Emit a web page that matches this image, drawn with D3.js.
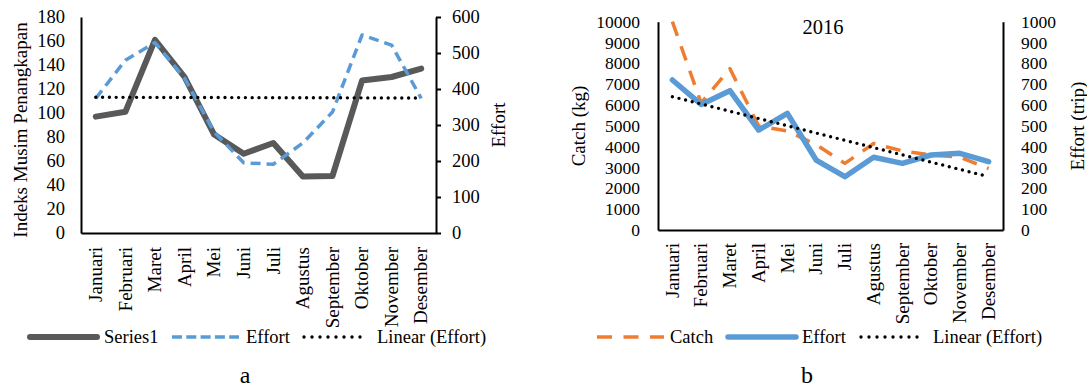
<!DOCTYPE html>
<html><head><meta charset="utf-8">
<script src="https://cdn.jsdelivr.net/npm/d3@7"></script>
<style>
body{margin:0;background:#fff;}
svg{display:block;}
text{font-family:"Liberation Serif","Times New Roman",serif;fill:#000;}
</style></head>
<body>
<svg id="c" width="1087" height="389"></svg>
<script>
const months = ["Januari","Februari","Maret","April","Mei","Juni","Juli","Agustus","September","Oktober","November","Desember"];
// Chart a
const series1A = [97,101,161,130,82,66,75,47,47.5,127,130,137];
const effortA = [374,480,529,430,281,195,191,250,336,550,522,374];
const trendA = [377,375];
const ticksAL = [0,20,40,60,80,100,120,140,160,180];
const ticksAR = [0,100,200,300,400,500,600];
// Chart b
const catchB = [10000,6100,7750,5000,4750,4100,3200,4150,3800,3600,3500,2950];
const effortB = [720,603,669,480,560,336,256,349,320,360,368,328];
const trendB = [640,256];
const ticksBL = [0,1000,2000,3000,4000,5000,6000,7000,8000,9000,10000];
const ticksBR = [0,100,200,300,400,500,600,700,800,900,1000];

const svg = d3.select("#c");

function panel(cfg){
  const g = svg.append("g");
  const x = d3.scaleBand().domain(months).range([cfg.x0,cfg.x1]).padding(0);
  const cx = d => x(d)+x.bandwidth()/2;
  const yL = d3.scaleLinear().domain(cfg.domL).range([cfg.yb,cfg.yt]);
  const yR = d3.scaleLinear().domain(cfg.domR).range([cfg.yb,cfg.yt]);

  const aL = g.append("g").attr("transform",`translate(${cfg.x0},0)`)
    .call(d3.axisLeft(yL).tickValues(cfg.ticksL).tickSize(0).tickSizeOuter(0).tickPadding(cfg.padL).tickFormat(d3.format("d")));
  aL.select(".domain").attr("stroke","#000").attr("stroke-width",2);
  aL.selectAll("text").style("font-size",cfg.tickFont+"px").attr("font-family",null);
  const aR = g.append("g").attr("transform",`translate(${cfg.x1},0)`)
    .call(d3.axisRight(yR).tickValues(cfg.ticksR).tickSize(cfg.rTick).tickSizeOuter(0).tickPadding(cfg.padR).tickFormat(d3.format("d")));
  aR.select(".domain").attr("stroke","#000").attr("stroke-width",2);
  aR.selectAll(".tick line").attr("stroke","#000").attr("stroke-width",2);
  aR.selectAll("text").style("font-size",cfg.tickFont+"px").attr("font-family",null);
  const aB = g.append("g").attr("transform",`translate(0,${cfg.yb})`)
    .call(d3.axisBottom(x).tickSize(0).tickSizeOuter(0));
  aB.select(".domain").attr("stroke","#000").attr("stroke-width",2);
  aB.selectAll("text").attr("font-family",null).style("font-size","19px")
    .attr("transform","rotate(-90)").attr("text-anchor","end")
    .attr("x",-cfg.monthOff).attr("y",0).attr("dy","0.33em");

  const lineL = d3.line().x((d,i)=>cx(months[i])).y(d=>yL(d));
  const lineR = d3.line().x((d,i)=>cx(months[i])).y(d=>yR(d));
  const trendLine = d3.line().x(d=>cx(d[0])).y(d=>yR(d[1]));

  cfg.series.forEach(s=>{
    const ln = s.axis==="L"?lineL:lineR;
    const p = g.append("path").datum(s.data).attr("d",ln).attr("fill","none")
      .attr("stroke",s.color).attr("stroke-width",s.width)
      .attr("stroke-linejoin","round").attr("stroke-linecap",s.cap||"round");
    if(s.dash) p.attr("stroke-dasharray",s.dash);
  });
  g.append("path").datum([[months[0],cfg.trend[0]],[months[11],cfg.trend[1]]])
    .attr("d",trendLine).attr("fill","none").attr("stroke","#000")
    .attr("stroke-width",3.4).attr("stroke-linecap","round").attr("stroke-dasharray","0,6.8");

  g.append("text").attr("transform",`translate(${cfg.tLx},${cfg.tLy}) rotate(-90)`)
    .attr("text-anchor","middle").attr("dy","0.35em").style("font-size","19px").text(cfg.titleL);
  g.append("text").attr("transform",`translate(${cfg.tRx},${cfg.tRy}) rotate(-90)`)
    .attr("text-anchor","middle").attr("dy","0.35em").style("font-size","19px").text(cfg.titleR);

  cfg.legend.forEach(l=>{
    const p = g.append("line").attr("x1",l.x1).attr("x2",l.x2).attr("y1",cfg.legY).attr("y2",cfg.legY)
      .attr("stroke",l.color).attr("stroke-width",l.width).attr("stroke-linecap",l.cap||"round");
    if(l.dash) p.attr("stroke-dasharray",l.dash);
    g.append("text").attr("x",l.tx).attr("y",cfg.legY).attr("dy","0.33em").style("font-size","18.5px").text(l.label);
  });
  g.append("text").attr("x",cfg.capX).attr("y",cfg.capY).attr("text-anchor","middle")
    .style("font-size","24px").text(cfg.cap);
}

panel({
  x0:81,x1:436,yb:233,yt:17,domL:[0,180],domR:[0,600],
  ticksL:ticksAL,ticksR:ticksAR,padL:16,padR:11,rTick:5,tickFont:18.5,monthOff:14,
  series:[
    {data:series1A,axis:"L",color:"#595959",width:6},
    {data:effortA,axis:"R",color:"#5B9BD5",width:3.5,dash:"10,6",cap:"butt"}
  ],
  trend:trendA,
  titleL:"Indeks Musim Penangkapan",tLx:20,tLy:130,
  titleR:"Effort",tRx:498,tRy:125,
  legY:337,
  legend:[
    {x1:30,x2:97,tx:104,label:"Series1",color:"#595959",width:6},
    {x1:172,x2:239,tx:246,label:"Effort",color:"#5B9BD5",width:3.5,dash:"10,4.3",cap:"butt"},
    {x1:304,x2:368,tx:377,label:"Linear (Effort)",color:"#000",width:3.4,dash:"0,8"}
  ],
  cap:"a",capX:245,capY:383
});

panel({
  x0:658,x1:1003,yb:230,yt:21.7,domL:[0,10000],domR:[0,1000],
  ticksL:ticksBL,ticksR:ticksBR,padL:18,padR:18,rTick:0,tickFont:17.5,monthOff:13,
  series:[
    {data:catchB,axis:"L",color:"#ED7D31",width:3.5,dash:"15,11",cap:"butt"},
    {data:effortB,axis:"R",color:"#5B9BD5",width:5.5}
  ],
  trend:trendB,
  titleL:"Catch (kg)",tLx:578,tLy:126,
  titleR:"Effort (trip)",tRx:1077,tRy:126,
  legY:337,
  legend:[
    {x1:597,x2:664,tx:670,label:"Catch",color:"#ED7D31",width:3.5,dash:"15,11.5",cap:"butt"},
    {x1:728,x2:796,tx:802,label:"Effort",color:"#5B9BD5",width:5.5},
    {x1:861,x2:925,tx:933,label:"Linear (Effort)",color:"#000",width:3.4,dash:"0,8"}
  ],
  cap:"b",capX:807,capY:383
});

svg.append("text").attr("x",823).attr("y",34).attr("text-anchor","middle")
  .style("font-size","20.5px").text("2016");
</script>
</body></html>
